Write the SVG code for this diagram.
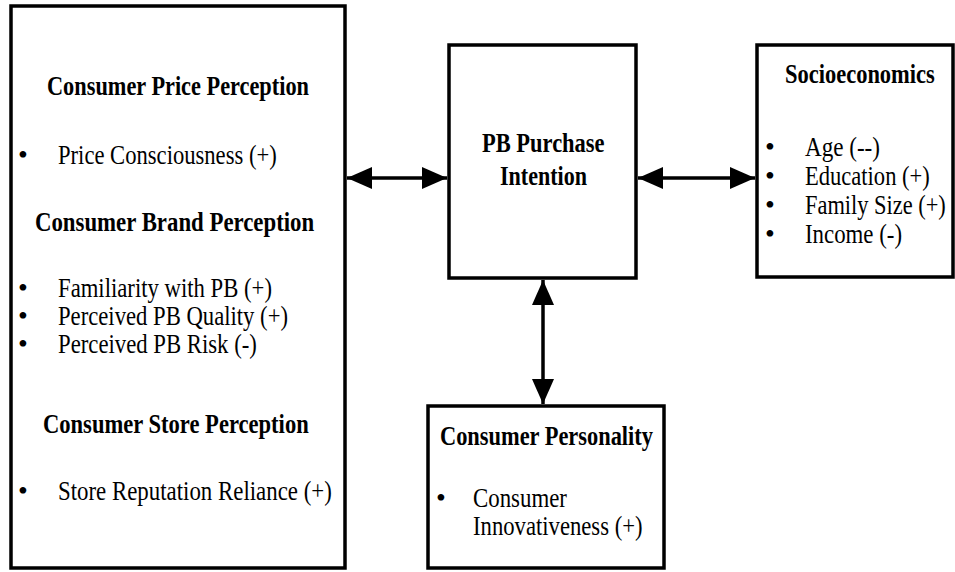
<svg xmlns="http://www.w3.org/2000/svg" width="955" height="572" viewBox="0 0 955 572">
<defs>
<style>
.box{fill:#fff;stroke:#000;stroke-width:3.5}
.h{font-family:"Liberation Serif","Times New Roman",serif;font-weight:bold;font-size:27px;fill:#000}
.t{font-family:"Liberation Serif","Times New Roman",serif;font-size:28px;fill:#000}
.con{stroke:#000;stroke-width:3.5;fill:none;marker-start:url(#ah);marker-end:url(#ah)}
</style>
<marker id="ah" markerUnits="userSpaceOnUse" markerWidth="26" markerHeight="22" refX="25" refY="11" orient="auto-start-reverse" viewBox="0 0 26 22">
<path d="M0,0 L25,11 L0,22 z" fill="#000"/>
</marker>
</defs>
<rect width="955" height="572" fill="#fff"/>
<g id="perception">
<rect class="box" x="11" y="6" width="334" height="562"/>
<text class="h" transform="translate(47,95) scale(0.827,1)">Consumer Price Perception</text>
<text class="t" x="18" y="164">•</text>
<text class="t" transform="translate(58,164) scale(0.808,1)">Price Consciousness (+)</text>
<text class="h" transform="translate(35,231) scale(0.845,1)">Consumer Brand Perception</text>
<text class="t" x="18" y="297">•</text>
<text class="t" transform="translate(58,297) scale(0.811,1)">Familiarity with PB (+)</text>
<text class="t" x="18" y="325">•</text>
<text class="t" transform="translate(58,325) scale(0.81,1)">Perceived PB Quality (+)</text>
<text class="t" x="18" y="353">•</text>
<text class="t" transform="translate(58,353) scale(0.812,1)">Perceived PB Risk (-)</text>
<text class="h" transform="translate(43,433) scale(0.836,1)">Consumer Store Perception</text>
<text class="t" x="18" y="500">•</text>
<text class="t" transform="translate(58,500) scale(0.817,1)">Store Reputation Reliance (+)</text>
</g>
<g id="intention">
<rect class="box" x="449" y="45" width="187" height="233"/>
<text class="h" transform="translate(482,152) scale(0.833,1)">PB Purchase</text>
<text class="h" transform="translate(500,185) scale(0.817,1)">Intention</text>
</g>
<g id="socioeconomics">
<rect class="box" x="757" y="45" width="196" height="232"/>
<text class="h" transform="translate(785,83) scale(0.833,1)">Socioeconomics</text>
<text class="t" x="765" y="156">•</text>
<text class="t" transform="translate(805,156) scale(0.825,1)">Age (--)</text>
<text class="t" x="765" y="185">•</text>
<text class="t" transform="translate(805,185) scale(0.806,1)">Education (+)</text>
<text class="t" x="765" y="214">•</text>
<text class="t" transform="translate(805,214) scale(0.8,1)">Family Size (+)</text>
<text class="t" x="765" y="243">•</text>
<text class="t" transform="translate(805,243) scale(0.816,1)">Income (-)</text>
</g>
<g id="personality">
<rect class="box" x="428" y="406" width="236" height="162"/>
<text class="h" transform="translate(440,445) scale(0.83,1)">Consumer Personality</text>
<text class="t" x="436" y="507">•</text>
<text class="t" transform="translate(473,507) scale(0.817,1)">Consumer</text>
<text class="t" transform="translate(473,535) scale(0.81,1)">Innovativeness (+)</text>
</g>
<g id="connectors">
<line class="con" x1="347" y1="178" x2="447" y2="178"/>
<line class="con" x1="638" y1="178" x2="755" y2="178"/>
<line class="con" x1="543" y1="280" x2="543" y2="404"/>
</g>
</svg>
